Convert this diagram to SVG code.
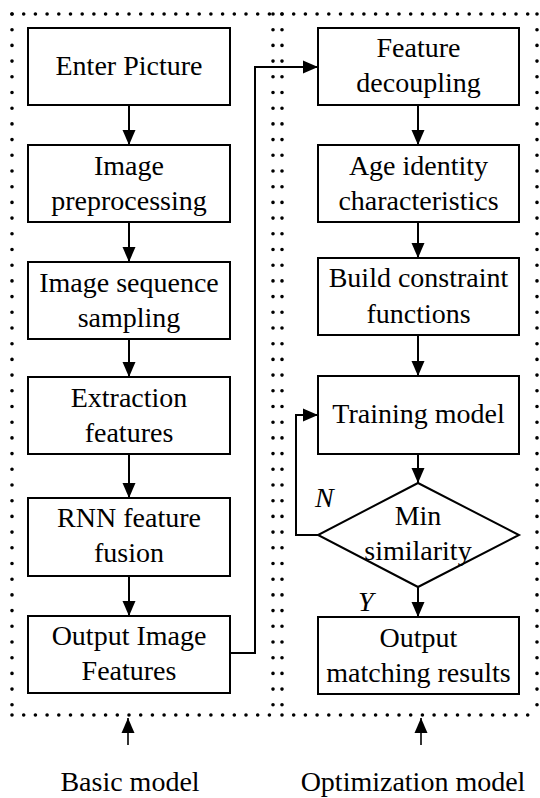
<svg xmlns="http://www.w3.org/2000/svg" width="540" height="798" viewBox="0 0 540 798">
<style>
.box{fill:#fff;stroke:#000;stroke-width:2}
text{font-family:'Liberation Serif','Times New Roman','DejaVu Serif',serif;font-size:28px;fill:#000}
.t{text-anchor:middle}
.it{font-style:italic}
.ln{fill:none;stroke:#000;stroke-width:2}
.dh{fill:none;stroke:#000;stroke-width:3.6;stroke-linecap:round;stroke-dasharray:0 11.7}
.dv{fill:none;stroke:#000;stroke-width:3.6;stroke-linecap:round;stroke-dasharray:0 15.7}
</style>
<defs>
<marker id="ah" markerWidth="15" markerHeight="14" refX="15" refY="7" orient="auto" markerUnits="userSpaceOnUse">
<path d="M0,0.5 L15,7 L0,13.5 Z" fill="#000"/>
</marker>
</defs>
<rect width="540" height="798" fill="#fff"/>
<g id="regions">
<path class="dh" d="M12,14 H273"/>
<path class="dh" d="M12,715 H273"/>
<path class="dv" d="M12,14 V715"/>
<path class="dv" d="M273,14 V715"/>
<path class="dh" d="M282,14 H537"/>
<path class="dh" d="M282,715 H537"/>
<path class="dv" d="M282,14 V715"/>
<path class="dv" d="M537,14 V715"/>
</g>
<g id="connectors">
<path class="ln" marker-end="url(#ah)" d="M129,105 V145"/>
<path class="ln" marker-end="url(#ah)" d="M129,222 V262"/>
<path class="ln" marker-end="url(#ah)" d="M129,339 V377"/>
<path class="ln" marker-end="url(#ah)" d="M129,454 V498"/>
<path class="ln" marker-end="url(#ah)" d="M129,576 V616"/>
<path class="ln" marker-end="url(#ah)" d="M230,653 H255 V67 H318"/>
<path class="ln" marker-end="url(#ah)" d="M418,105 V145"/>
<path class="ln" marker-end="url(#ah)" d="M418,222 V258"/>
<path class="ln" marker-end="url(#ah)" d="M418,335 V376"/>
<path class="ln" marker-end="url(#ah)" d="M418,454 V483"/>
<path class="ln" marker-end="url(#ah)" d="M418,587 V617"/>
<path class="ln" marker-end="url(#ah)" d="M318,535 H296 V415 H318"/>
<path class="ln" style="stroke-width:1.6" marker-end="url(#ah)" d="M128,745 V718"/>
<path class="ln" style="stroke-width:1.6" marker-end="url(#ah)" d="M421,745 V718"/>
</g>
<g id="enter-picture"><rect class="box" x="28" y="28" width="202" height="77"/><text class="t" x="129" y="75">Enter Picture</text></g>
<g id="image-preprocessing"><rect class="box" x="28" y="145" width="202" height="77"/><text class="t" x="129" y="175">Image</text><text class="t" x="129" y="210">preprocessing</text></g>
<g id="image-sequence-sampling"><rect class="box" x="28" y="262" width="202" height="77"/><text class="t" x="129" y="292">Image sequence</text><text class="t" x="129" y="327">sampling</text></g>
<g id="extraction-features"><rect class="box" x="28" y="377" width="202" height="77"/><text class="t" x="129" y="407">Extraction</text><text class="t" x="129" y="442">features</text></g>
<g id="rnn-feature-fusion"><rect class="box" x="28" y="498" width="202" height="78"/><text class="t" x="129" y="527">RNN feature</text><text class="t" x="129" y="562">fusion</text></g>
<g id="output-image-features"><rect class="box" x="28" y="616" width="202" height="77"/><text class="t" x="129" y="645">Output Image</text><text class="t" x="129" y="680">Features</text></g>
<g id="feature-decoupling"><rect class="box" x="318" y="28" width="201" height="77"/><text class="t" x="418.5" y="57">Feature</text><text class="t" x="418.5" y="92">decoupling</text></g>
<g id="age-identity"><rect class="box" x="318" y="145" width="201" height="77"/><text class="t" x="418.5" y="175">Age identity</text><text class="t" x="418.5" y="210">characteristics</text></g>
<g id="build-constraint"><rect class="box" x="318" y="258" width="201" height="77"/><text class="t" x="418.5" y="287">Build constraint</text><text class="t" x="418.5" y="323">functions</text></g>
<g id="training-model"><rect class="box" x="318" y="376" width="201" height="78"/><text class="t" x="418.5" y="423">Training model</text></g>
<g id="min-similarity"><path class="box" d="M418,483 L519,535 L418,587 L318,535 Z"/><text class="t" x="418" y="525">Min</text><text class="t" x="418" y="560">similarity</text></g>
<g id="output-matching"><rect class="box" x="318" y="617" width="201" height="77"/><text class="t" x="418.5" y="647">Output</text><text class="t" x="418.5" y="682">matching results</text></g>
<g id="labels">
<text class="it" x="315" y="507">N</text>
<text class="it" x="358" y="611">Y</text>
<text class="t" x="130" y="791">Basic model</text>
<text class="t" x="413" y="791">Optimization model</text>
</g>
</svg>
